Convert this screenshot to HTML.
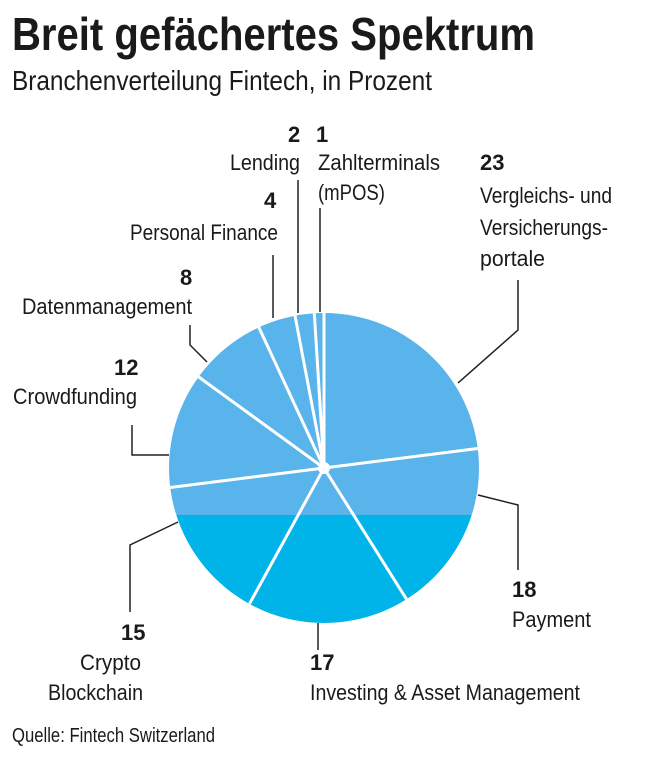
<!DOCTYPE html>
<html><head><meta charset="utf-8"><style>
body{margin:0;background:#fff}
svg text{font-family:"Liberation Sans Narrow","Liberation Sans",sans-serif;fill:#1a1a1a}
.b{font-weight:bold}
</style></head><body>
<svg width="650" height="759" viewBox="0 0 650 759" xmlns="http://www.w3.org/2000/svg">
<text x="12" y="50" font-size="46" class="b" textLength="523" lengthAdjust="spacingAndGlyphs">Breit gefächertes Spektrum</text>
<text x="12" y="90" font-size="28" textLength="420" lengthAdjust="spacingAndGlyphs">Branchenverteilung Fintech, in Prozent</text>
<defs><clipPath id="c"><circle cx="324" cy="468" r="155"/></clipPath></defs>
<g clip-path="url(#c)">
<rect x="160" y="300" width="330" height="215" fill="#5ab4ec"/>
<rect x="160" y="515" width="330" height="120" fill="#00b4ea"/>
</g>
<circle cx="324" cy="468" r="6" fill="#fff"/>
<g stroke="#222" stroke-width="1.5" fill="none">
<polyline points="320,208 320,312"/>
<polyline points="298,180 298,313"/>
<polyline points="273,255 273,318"/>
<polyline points="190,325 190,345 207,362"/>
<polyline points="132,425 132,455 169,455"/>
<polyline points="178,522 130,545 130,612"/>
<polyline points="318,623 318,650"/>
<polyline points="478,495 518,505 518,570"/>
<polyline points="458,383 518,330 518,280"/>
</g>
<g font-size="22">
<text x="288" y="142" class="b">2</text><text x="316" y="142" class="b">1</text>
<text x="230" y="170" textLength="70" lengthAdjust="spacingAndGlyphs">Lending</text>
<text x="318" y="170" textLength="122" lengthAdjust="spacingAndGlyphs">Zahlterminals</text>
<text x="318" y="200" textLength="67" lengthAdjust="spacingAndGlyphs">(mPOS)</text>
<text x="480" y="170" class="b">23</text>
<text x="480" y="203" textLength="132" lengthAdjust="spacingAndGlyphs">Vergleichs- und</text>
<text x="480" y="235" textLength="128" lengthAdjust="spacingAndGlyphs">Versicherungs-</text>
<text x="480" y="266" font-size="22" textLength="65" lengthAdjust="spacingAndGlyphs" style="font-size:22px">portale</text>
<text x="264" y="208" class="b">4</text>
<text x="130" y="240" textLength="148" lengthAdjust="spacingAndGlyphs">Personal Finance</text>
<text x="180" y="285" class="b">8</text>
<text x="22" y="314" textLength="170" lengthAdjust="spacingAndGlyphs">Datenmanagement</text>
<text x="114" y="375" class="b">12</text>
<text x="13" y="404" textLength="124" lengthAdjust="spacingAndGlyphs">Crowdfunding</text>
<text x="512" y="597" class="b">18</text>
<text x="512" y="627" textLength="79" lengthAdjust="spacingAndGlyphs">Payment</text>
<text x="121" y="640" class="b">15</text>
<text x="80" y="670" textLength="61" lengthAdjust="spacingAndGlyphs">Crypto</text>
<text x="48" y="700" textLength="95" lengthAdjust="spacingAndGlyphs">Blockchain</text>
<text x="310" y="670" class="b">17</text>
<text x="310" y="700" textLength="270" lengthAdjust="spacingAndGlyphs">Investing &amp; Asset Management</text>
</g>
<text x="12" y="742" font-size="20" textLength="203" lengthAdjust="spacingAndGlyphs">Quelle: Fintech Switzerland</text>
<g stroke="#fff" stroke-width="3">
<line x1="324" y1="468" x2="324" y2="312"/>
<line x1="324" y1="468" x2="477.8" y2="448.5"/>
<line x1="324" y1="468" x2="406.5" y2="599.2"/>
<line x1="324" y1="468" x2="249.5" y2="603.8"/>
<line x1="324" y1="468" x2="170.2" y2="487.5"/>
<line x1="324" y1="468" x2="198.6" y2="376.9"/>
<line x1="324" y1="468" x2="258.8" y2="327.2"/>
<line x1="324" y1="468" x2="295.0" y2="315.7"/>
<line x1="324" y1="468" x2="314.3" y2="313.3"/>
</g>
</svg>
</body></html>
